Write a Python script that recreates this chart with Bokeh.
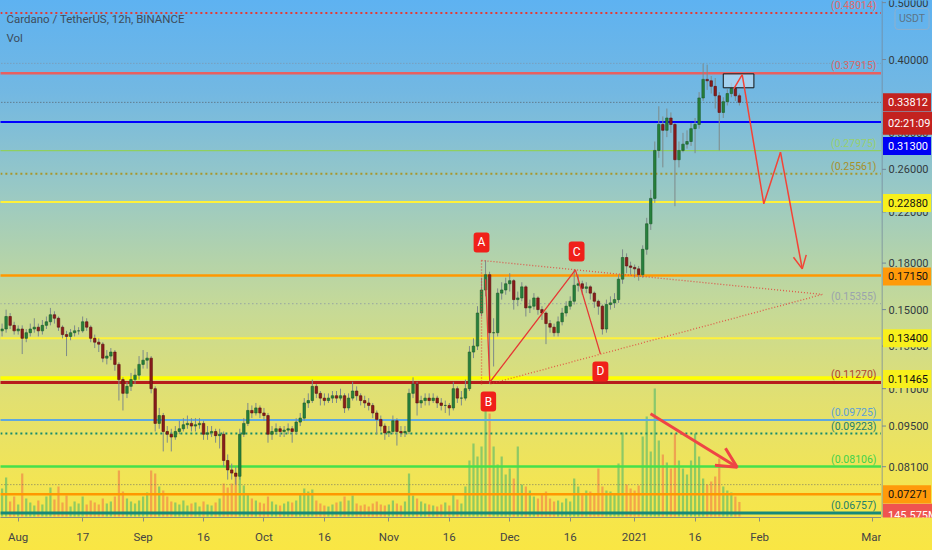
import numpy as np
import pandas as pd
from bokeh.plotting import figure
from bokeh.layouts import row
from bokeh.models import (Range1d, FixedTicker, Label, Arrow, OpenHead, ColumnDataSource,
                          LinearScale)
from bokeh.core.properties import value
from bokeh.embed import file_html
from bokeh.resources import INLINE

FONT = "Roboto"

# ---------------- data (daily candles) ----------------
origin_date = "2020-08-01"
start_date = "2020-07-28"
first_open = 0.138
closes = [
    0.139, 0.146, 0.141, 0.138, 0.139, 0.134, 0.137, 0.139, 0.140, 0.138,
    0.141, 0.143, 0.147, 0.145, 0.140, 0.136, 0.135, 0.137, 0.138, 0.138,
    0.143, 0.140, 0.134, 0.132, 0.131, 0.124, 0.125, 0.127, 0.121, 0.114,
    0.108, 0.111, 0.114, 0.116, 0.121, 0.123, 0.124, 0.110, 0.096, 0.099,
    0.093, 0.092, 0.091, 0.093, 0.094, 0.0955, 0.096, 0.095, 0.0955, 0.096,
    0.092, 0.0925, 0.093, 0.0915, 0.092, 0.083, 0.080, 0.079, 0.078, 0.092,
    0.096, 0.101, 0.100, 0.102, 0.100, 0.099, 0.092, 0.093, 0.094, 0.093,
    0.0935, 0.094, 0.093, 0.0965, 0.098, 0.104, 0.105, 0.111, 0.108, 0.106,
    0.105, 0.106, 0.107, 0.106, 0.107, 0.102, 0.106, 0.109, 0.107, 0.105,
    0.104, 0.103, 0.100, 0.0975, 0.095, 0.0925, 0.093, 0.097, 0.093, 0.0925,
    0.093, 0.108, 0.112, 0.104, 0.105, 0.106, 0.105, 0.106, 0.104, 0.103,
    0.103, 0.102, 0.110, 0.106, 0.106, 0.110, 0.127, 0.130, 0.148, 0.162,
    0.172, 0.137, 0.137, 0.160, 0.162, 0.166, 0.168, 0.156, 0.157, 0.164,
    0.151, 0.152, 0.157, 0.150, 0.148, 0.142, 0.140, 0.137, 0.143, 0.148,
    0.152, 0.155, 0.165, 0.166, 0.163, 0.164, 0.160, 0.155, 0.152, 0.139,
    0.153, 0.154, 0.156, 0.169, 0.184, 0.178, 0.177, 0.176, 0.172, 0.190,
    0.210, 0.232, 0.280, 0.310, 0.303, 0.318, 0.310, 0.270, 0.280, 0.287,
    0.290, 0.305, 0.310, 0.344, 0.370, 0.368, 0.360, 0.347, 0.325, 0.339,
    0.350, 0.357, 0.347, 0.33812,
]
highs = [
    0.142, 0.150, 0.148, 0.143, 0.141, 0.141, 0.139, 0.142, 0.145, 0.142,
    0.144, 0.146, 0.151, 0.149, 0.146, 0.141, 0.138, 0.139, 0.141, 0.140,
    0.146, 0.145, 0.141, 0.136, 0.134, 0.132, 0.128, 0.129, 0.128, 0.122,
    0.115, 0.113, 0.117, 0.119, 0.125, 0.128, 0.127, 0.125, 0.111, 0.102,
    0.100, 0.095, 0.094, 0.095, 0.097, 0.098, 0.099, 0.098, 0.098, 0.098,
    0.097, 0.095, 0.095, 0.094, 0.094, 0.093, 0.085, 0.082, 0.081, 0.094,
    0.098, 0.104, 0.103, 0.104, 0.103, 0.102, 0.100, 0.095, 0.096, 0.095,
    0.095, 0.096, 0.095, 0.098, 0.100, 0.106, 0.108, 0.114, 0.112, 0.109,
    0.108, 0.108, 0.109, 0.109, 0.110, 0.108, 0.108, 0.113, 0.111, 0.108,
    0.107, 0.106, 0.104, 0.101, 0.099, 0.096, 0.095, 0.099, 0.098, 0.095,
    0.095, 0.110, 0.115, 0.113, 0.107, 0.108, 0.108, 0.108, 0.107, 0.106,
    0.105, 0.104, 0.113, 0.111, 0.109, 0.114, 0.130, 0.134, 0.152, 0.170,
    0.182, 0.174, 0.145, 0.163, 0.167, 0.170, 0.173, 0.169, 0.161, 0.167,
    0.165, 0.156, 0.160, 0.158, 0.152, 0.149, 0.144, 0.142, 0.146, 0.151,
    0.155, 0.158, 0.1755, 0.172, 0.168, 0.167, 0.165, 0.161, 0.156, 0.153,
    0.156, 0.158, 0.160, 0.172, 0.190, 0.187, 0.181, 0.179, 0.178, 0.193,
    0.215, 0.240, 0.290, 0.333, 0.320, 0.330, 0.325, 0.312, 0.290, 0.300,
    0.303, 0.312, 0.318, 0.352, 0.394, 0.392, 0.375, 0.372, 0.352, 0.345,
    0.356, 0.365, 0.360, 0.350,
]
lows = [
    0.135, 0.137, 0.139, 0.136, 0.136, 0.126, 0.132, 0.135, 0.137, 0.135,
    0.136, 0.139, 0.141, 0.142, 0.138, 0.134, 0.125, 0.133, 0.135, 0.136,
    0.137, 0.138, 0.132, 0.129, 0.127, 0.122, 0.121, 0.123, 0.118, 0.105,
    0.101, 0.106, 0.109, 0.112, 0.114, 0.119, 0.119, 0.108, 0.093, 0.094,
    0.086, 0.089, 0.086, 0.090, 0.092, 0.093, 0.094, 0.093, 0.093, 0.094,
    0.090, 0.090, 0.091, 0.089, 0.087, 0.081, 0.077, 0.077, 0.0755, 0.077,
    0.091, 0.095, 0.098, 0.099, 0.098, 0.097, 0.089, 0.090, 0.092, 0.091,
    0.091, 0.092, 0.089, 0.092, 0.095, 0.097, 0.102, 0.104, 0.106, 0.103,
    0.103, 0.104, 0.104, 0.104, 0.105, 0.100, 0.101, 0.105, 0.105, 0.103,
    0.102, 0.101, 0.098, 0.092, 0.093, 0.090, 0.091, 0.092, 0.088, 0.091,
    0.091, 0.092, 0.106, 0.099, 0.102, 0.103, 0.103, 0.104, 0.102, 0.101,
    0.100, 0.099, 0.101, 0.104, 0.103, 0.105, 0.109, 0.124, 0.128, 0.146,
    0.158, 0.112, 0.120, 0.135, 0.156, 0.159, 0.161, 0.150, 0.152, 0.155,
    0.146, 0.148, 0.150, 0.147, 0.144, 0.131, 0.137, 0.135, 0.135, 0.141,
    0.146, 0.150, 0.153, 0.161, 0.159, 0.160, 0.156, 0.151, 0.147, 0.136,
    0.137, 0.150, 0.151, 0.154, 0.166, 0.173, 0.172, 0.170, 0.168, 0.170,
    0.186, 0.205, 0.228, 0.272, 0.262, 0.295, 0.300, 0.225, 0.262, 0.278,
    0.282, 0.285, 0.277, 0.305, 0.340, 0.355, 0.350, 0.330, 0.280, 0.318,
    0.334, 0.345, 0.340, 0.334,
]
volumes_m = [
    280, 390, 150, 200, 120, 430, 180, 140, 110, 160,
    120, 200, 290, 170, 300, 140, 210, 100, 150, 130,
    200, 120, 160, 140, 120, 180, 130, 150, 200, 460,
    250, 180, 150, 130, 160, 200, 240, 460, 430, 300,
    260, 200, 150, 140, 120, 160, 110, 130, 140, 100,
    150, 120, 110, 140, 180, 330, 290, 330, 430, 400,
    310, 220, 180, 160, 140, 130, 200, 150, 120, 110,
    130, 150, 140, 160, 230, 280, 250, 270, 160, 130,
    110, 100, 120, 140, 150, 200, 160, 210, 130, 110,
    120, 100, 130, 150, 120, 110, 120, 160, 130, 110,
    150, 430, 210, 180, 150, 130, 120, 110, 100, 120,
    140, 110, 230, 170, 130, 300, 560, 730, 600, 700,
    1160, 1030, 700, 520, 600, 420, 480, 380, 700, 320,
    300, 260, 200, 180, 220, 250, 180, 150, 160, 140,
    180, 150, 380, 300, 220, 260, 250, 230, 480, 300,
    260, 250, 230, 530, 840, 320, 280, 260, 310, 800,
    1000, 650, 1280, 760, 620, 540, 480, 830, 560, 480,
    420, 560, 830, 600, 380, 320, 350, 400, 580, 300,
    260, 240, 200, 145.575,
]

tick_dates = ["2020-08-01", "2020-08-17", "2020-09-01", "2020-09-16", "2020-10-01",
              "2020-10-16", "2020-11-01", "2020-11-16", "2020-12-01", "2020-12-16",
              "2021-01-01", "2021-01-16", "2021-02-01", "2021-03-01"]
tick_labels = ["Aug", "17", "Sep", "16", "Oct", "16", "Nov", "16", "Dec", "16",
               "2021", "16", "Feb", "Mar"]
price_ticks = [0.081, 0.095, 0.11, 0.13, 0.15, 0.18, 0.22, 0.26, 0.30, 0.40, 0.50]

level_prices = [0.48014, 0.394, 0.37915, 0.33812, 0.313, 0.27975, 0.25561, 0.2288,
                0.1715, 0.15355, 0.134, 0.11465, 0.1127, 0.09725, 0.09223, 0.08106,
                0.0755, 0.07271, 0.06757]
fib_texts = {0.48014: "(0.48014)", 0.37915: "(0.37915)", 0.27975: "(0.27975)",
             0.25561: "(0.25561)", 0.15355: "(0.15355)", 0.1127: "(0.11270)",
             0.09725: "(0.09725)", 0.09223: "(0.09223)", 0.08106: "(0.08106)",
             0.06757: "(0.06757)"}

# pattern drawing anchors (day offset, price)
abcd_x = [116.0, 117.05, 138.3, 144.5]
abcd_y = [0.169, 0.1128, 0.1753, 0.1261]
upper_x = [115.0, 199.6]
upper_y = [0.1819, 0.1592]
lower_x = [117.2, 199.6]
lower_y = [0.1121, 0.1592]
vert_x = [115.0, 115.0]
vert_y = [0.1819, 0.1114]
point_names = ["A", "B", "C", "D"]
point_x = [115.0, 116.7, 138.6, 144.5]
point_y = [0.1952, 0.1046, 0.1883, 0.1177]
proj_x = [177.6, 179.7, 185.06, 189.2, 194.6]
proj_y = [0.3566, 0.377, 0.2271, 0.2781, 0.176]
box_x = [175.0, 182.6]
box_y = [0.358, 0.3781]
varrow_x = [156.94, 178.46]
varrow_y = [0.0997, 0.0808]

# right-scale price tags: (text, price, fill, text colour, pixel shift)
tags = [("0.33812", 0.33812, "#c3221f", "white", 0),
        ("02:21:09", 0.33812, "#c3221f", "white", -21),
        ("0.31300", 0.313, "#0000f5", "white", -24),
        ("0.22880", 0.2288, "#f8f01c", "#111111", -1),
        ("0.17150", 0.1715, "#ff9a0a", "#111111", -1),
        ("0.13400", 0.134, "#f8f01c", "#111111", 0),
        ("0.11465", 0.11465, "#f8f01c", "#111111", -1),
        ("0.07271", 0.07271, "#ff9a0a", "#111111", 0),
        ("145.575M", 0.07271, "#ef5350", "white", -21)]

# ---------------- derived ----------------
dates = pd.date_range(start_date, periods=len(closes), freq="D")
xd = np.array((dates - pd.Timestamp(origin_date)).days, dtype=float)
opens = [first_open] + closes[:-1]
up = [c >= o for o, c in zip(opens, closes)]
src = ColumnDataSource(dict(
    x=xd, o=opens, c=closes, h=highs, l=lows, v=volumes_m,
    top=[max(o, c) for o, c in zip(opens, closes)],
    bot=[min(o, c) for o, c in zip(opens, closes)],
    fill=["#27803c" if u else "#8a1c1c" for u in up],
    edge=["#1a5a28" if u else "#5a0e0e" for u in up],
    vcol=["#4fb86a" if u else "#f07848" for u in up],
))
tick_pos = [int((pd.Timestamp(d) - pd.Timestamp(origin_date)).days) for d in tick_dates]

GRAD = {"background-image": "linear-gradient(180deg, #5eb2f1 0%, #73b8e2 17%, "
        "#9ccac2 36%, #c4d999 55%, #e2e070 73%, #f3e553 88%, #f9e643 100%)"}
X0, X1 = -4.39, 214.27
yr = Range1d(0.06637, 0.50416)
p = figure(width=881, height=550, output_backend="svg", toolbar_location=None,
           y_axis_type="log", y_axis_location=None,
           x_range=Range1d(X0, X1), y_range=yr,
           min_border_left=0, min_border_top=0, min_border_right=0, min_border_bottom=33,
           background_fill_color=None, border_fill_color=None, outline_line_color=None,
           styles=GRAD)
p.grid.visible = False
p.extra_y_ranges = {"vol": Range1d(-10, 5160)}
p.extra_y_scales = {"vol": LinearScale()}

# volume
p.vbar(x="x", top="v", bottom=0, width=0.55, fill_color="vcol", line_color=None,
       fill_alpha=0.6, y_range_name="vol", source=src)

# horizontal levels
style = {
    0.48014: ("#e53935", 2, "2 3"), 0.394: ("#7f93a6", 1, "1 2"),
    0.37915: ("#e86060", 2.5, "solid"), 0.33812: ("#555f66", 1, "1 2"),
    0.313: ("#0000ff", 2, "solid"), 0.27975: ("#8fcf60", 1.2, "solid"),
    0.25561: ("#a8962a", 2, "2 3"), 0.2288: ("#fff13a", 2, "solid"),
    0.1715: ("#ff9800", 2.5, "solid"), 0.15355: ("#8d99a3", 1.2, "1 3"),
    0.134: ("#fff13a", 2, "solid"), 0.11465: ("#ffff00", 3.5, "solid"),
    0.1127: ("#b71c1c", 3, "solid"), 0.09725: ("#5ea8e0", 2, "solid"),
    0.09223: ("#168a6c", 2, "2 3"), 0.08106: ("#46e04a", 2.5, "solid"),
    0.0755: ("#7c7c64", 1, "1 2"), 0.07271: ("#ff9800", 2.5, "solid"),
    0.06757: ("#15897a", 3, "solid"),
}
label_col = {0.48014: "#e06a6a", 0.37915: "#d96666", 0.27975: "#98d070",
             0.25561: "#a8902a", 0.15355: "#9aa4ad", 0.1127: "#b0402e",
             0.09725: "#5c9fd6", 0.09223: "#1d7f6a", 0.08106: "#3fd24a",
             0.06757: "#1d7f6a"}
for lp in level_prices:
    col, w, dash = style[lp]
    p.segment(x0=[X0 - 5], x1=[X1 + 5], y0=[lp], y1=[lp], line_color=col,
              line_width=w, line_dash=dash)

# candles
p.segment(x0="x", x1="x", y0="l", y1="h", line_color="#7d8a8a", line_width=1, source=src)
p.vbar(x="x", top="top", bottom="bot", width=0.62, fill_color="fill", line_color="edge",
       line_width=0.6, source=src)

for lp, txt in fib_texts.items():
    p.add_layout(Label(x=X1, y=lp, x_offset=-5, text=txt, text_align="right",
                       text_baseline="bottom", y_offset=1, text_font=FONT,
                       text_font_size="10.5px", text_color=label_col[lp]))

# pattern drawing
red = "#e53935"
p.line(abcd_x, abcd_y, line_color=red, line_width=1.3)
p.line(upper_x, upper_y, line_color=red, line_width=1.3, line_dash="1 2", line_alpha=0.8)
p.line(lower_x, lower_y, line_color=red, line_width=1.3, line_dash="1 2", line_alpha=0.8)
p.line(vert_x, vert_y, line_color=red, line_width=1.3, line_dash="1 2", line_alpha=0.8)
for nm, px_, py_ in zip(point_names, point_x, point_y):
    p.add_layout(Label(x=px_, y=py_, text=nm, text_align="center", text_baseline="middle",
                       text_font=FONT, text_font_size="12px", text_color="white",
                       background_fill_color="#f0201a", padding=(4, 4, 3, 3),
                       border_radius=3))

# projection
p.quad(left=[box_x[0]], right=[box_x[1]], bottom=[box_y[0]], top=[box_y[1]],
       fill_color="#bcdcf4", fill_alpha=0.7, line_color="#111111", line_width=1)
p.line(proj_x[:-1], proj_y[:-1], line_color="#f44336", line_width=1.5)
p.add_layout(Arrow(x_start=proj_x[-2], y_start=proj_y[-2], x_end=proj_x[-1], y_end=proj_y[-1],
                   line_color="#f44336", line_width=1.5,
                   end=OpenHead(size=13, line_color="#f44336", line_width=1.5)))
p.add_layout(Arrow(x_start=varrow_x[0], y_start=varrow_y[0], x_end=varrow_x[1], y_end=varrow_y[1],
                   line_color="#ef4545", line_width=3,
                   end=OpenHead(size=20, line_color="#ef4545", line_width=3)))

# legend texts
p.add_layout(Label(x=X0, y=0.468, x_offset=6, text="Cardano / TetherUS, 12h, BINANCE",
                   text_baseline="middle", text_font=FONT, text_font_size="11.5px",
                   text_color="#3d4d5c"))
p.add_layout(Label(x=X0, y=0.4345, x_offset=6, text="Vol", text_baseline="middle",
                   text_font=FONT, text_font_size="11.5px", text_color="#3d4d5c"))

# time axis
xa = p.xaxis[0]
xa.ticker = FixedTicker(ticks=tick_pos)
xa.major_label_overrides = {tp: lb for tp, lb in zip(tick_pos, tick_labels)}
xa.major_label_text_font = FONT
xa.major_label_text_font_size = "11.5px"
xa.major_label_text_color = "#444444"
xa.axis_line_color = "#8a8f80"
xa.major_tick_line_color = "#8a8f80"
xa.major_tick_out = 4
xa.major_tick_in = 0
xa.minor_tick_line_color = None
xa.major_label_standoff = 8

# ---------------- price scale panel (same log y scale) ----------------
r = figure(width=51, height=550, output_backend="svg", toolbar_location=None,
           y_axis_type="log", y_axis_location=None, x_axis_location=None,
           x_range=Range1d(0, 51), y_range=yr,
           min_border_left=0, min_border_top=0, min_border_right=0, min_border_bottom=33,
           background_fill_color=None, border_fill_color=None, outline_line_color=None,
           styles=GRAD)
r.grid.visible = False
r.segment(x0=[0.5], x1=[0.5], y0=[yr.start], y1=[yr.end], line_color="#74889a", line_width=1)
r.segment(x0=[0.5] * len(price_ticks), x1=[4.5] * len(price_ticks), y0=price_ticks,
          y1=price_ticks, line_color="#74889a", line_width=1)
r.text(x=[7] * len(price_ticks), y=price_ticks, text=[f"{t:.5f}" for t in price_ticks],
       text_baseline="middle", text_align="left", text_font=value(FONT),
       text_font_size="11px", text_color="#333b40")
for txt, pr, fc, tc, dy in tags:
    r.add_layout(Label(x=0.5, y=pr, x_offset=1, y_offset=dy, text=txt, text_align="left",
                       text_baseline="middle", text_font=FONT, text_font_size="11px",
                       text_color=tc, background_fill_color=fc, padding=(5, 3, 5, 5)))
r.add_layout(Label(x=0.5, y=0.469, x_offset=13, text="USDT", text_align="left",
                   text_baseline="middle", text_font=FONT, text_font_size="10.5px",
                   text_color="#5d7487", border_line_color="#8fb0cc", padding=4,
                   border_radius=3))

layout = row(p, r)
open("out.html", "w").write(file_html(layout, INLINE))
